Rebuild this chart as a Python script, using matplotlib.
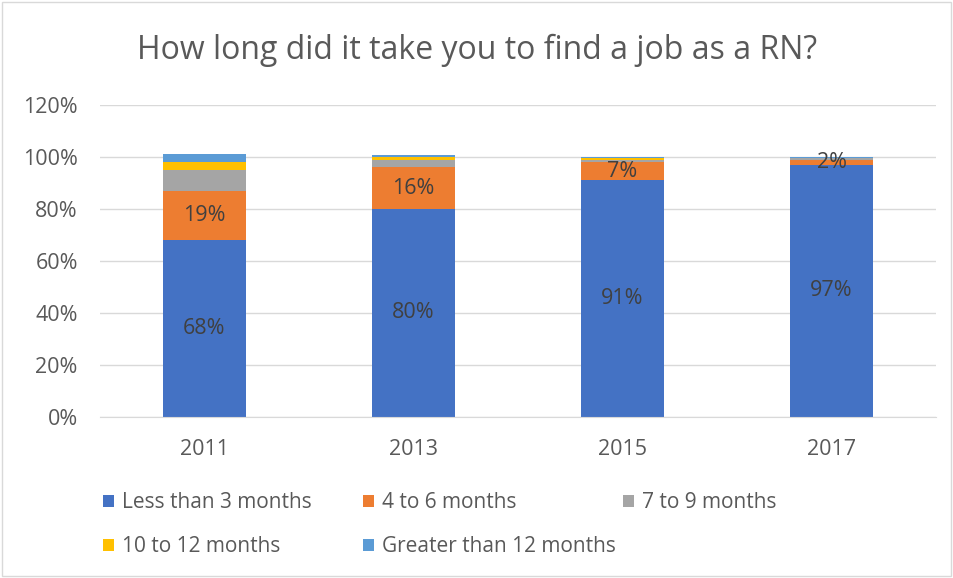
import matplotlib.pyplot as plt
import numpy as np
from matplotlib.patches import Rectangle

years = ["2011", "2013", "2015", "2017"]
series_names = ["Less than 3 months", "4 to 6 months", "7 to 9 months",
                "10 to 12 months", "Greater than 12 months"]
less_3 = [68, 80, 91, 97]
m4_6 = [19, 16, 7, 2]
m7_9 = [8, 3, 1, 0.5]
m10_12 = [3, 1, 0.5, 0]
more_12 = [3, 0.8, 0.4, 0.5]
colors = ["#4472C4", "#ED7D31", "#A5A5A5", "#FFC000", "#5B9BD5"]
text_color = "#595959"

plt.rcParams['font.family'] = ['Open Sans', 'DejaVu Sans']

fig = plt.figure(figsize=(9.54, 5.78), dpi=100)
ax = fig.add_axes([100 / 954, 1 - 417 / 578, 836 / 954, 312 / 578])

x = np.arange(len(years))
bottom = np.zeros(len(years))
all_series = [less_3, m4_6, m7_9, m10_12, more_12]
handles = []
for i, (name, vals) in enumerate(zip(series_names, all_series)):
    bars = ax.bar(x, vals, 0.4, bottom=bottom, color=colors[i], label=name)
    handles.append(bars)
    if i < 2:
        ax.bar_label(bars, labels=[f"{v:.0f}%" for v in vals], label_type='center',
                     fontsize=15.5, color="#404040")
    bottom += np.array(vals)

ax.set_xlim(-0.5, len(years) - 0.5)
ax.set_ylim(0, 120)
ax.set_yticks(np.arange(0, 121, 20))
ax.set_yticklabels([f"{v}%" for v in range(0, 121, 20)])
ax.set_xticks(x)
ax.set_xticklabels(years)
ax.tick_params(axis='both', length=0, labelsize=15.5, colors=text_color)
ax.tick_params(axis='x', pad=16)
ax.tick_params(axis='y', pad=16)
ax.grid(axis='y', color="#D9D9D9", linewidth=1)
ax.set_axisbelow(True)
for side in ['top', 'right', 'left']:
    ax.spines[side].set_visible(False)
ax.spines['bottom'].set_color("#D9D9D9")

fig.text(0.5, 1 - 50 / 578, "How long did it take you to find a job as a RN?", ha='center', va='center',
         fontsize=23, color=text_color)

# legend laid out in three equal columns, like the original
columns = [[0, 3], [1, 4], [2]]
col_x = [95, 355, 615]
for cx, idx in zip(col_x, columns):
    fig.legend([handles[k] for k in idx], [series_names[k] for k in idx],
               loc='upper left', bbox_to_anchor=(cx / 954, 1 - 484 / 578), ncol=1,
               frameon=False, fontsize=15, labelcolor=text_color, handlelength=0.5,
               handleheight=0.5, handletextpad=0.4, labelspacing=1.1, borderaxespad=0)

fig.patches.append(Rectangle((0.002, 0.003), 0.995, 0.994, transform=fig.transFigure,
                             fill=False, edgecolor="#D9D9D9", linewidth=1))

fig.savefig("out.png", dpi=100)
